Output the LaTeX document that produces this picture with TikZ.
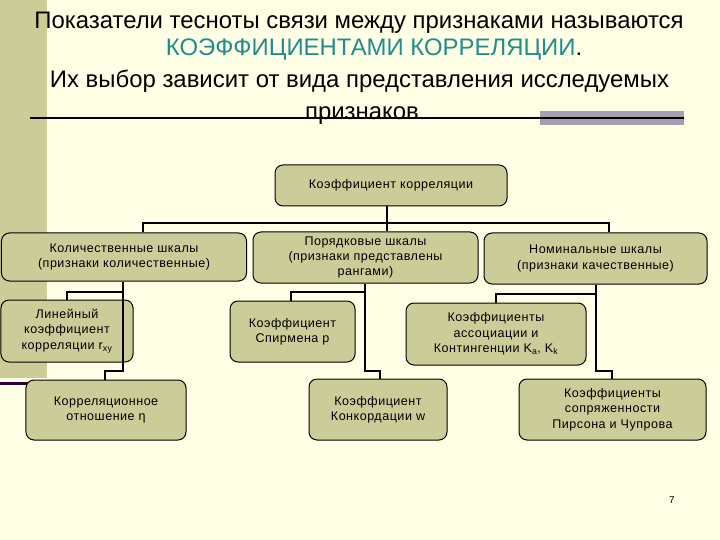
\documentclass[tikz,border=0pt]{standalone}
\usepackage{fontspec}
\setmainfont{Liberation Sans}
\newfontfamily\boxfont[LetterSpace=4]{Liberation Sans}
\usetikzlibrary{calc}
\definecolor{bg}{RGB}{255,255,229}
\definecolor{stripol}{RGB}{204,204,153}
\definecolor{boxfill}{RGB}{204,204,153}
\definecolor{tealtxt}{RGB}{32,140,140}
\definecolor{bargray}{RGB}{164,160,176}
\definecolor{darkpurple}{RGB}{51,0,51}
\begin{document}
\begin{tikzpicture}[x=1bp,y=-1bp,
 box/.style={draw=black, line width=1bp, fill=boxfill, rounded corners=8bp, align=center, font=\boxfont\fontsize{12.6}{15.5}\selectfont, inner sep=0pt},
 conn/.style={line width=2.2bp, black},
 ttl/.style={font=\fontsize{24}{28}\selectfont, anchor=base, inner sep=0pt}]
\fill[bg] (0,0) rectangle (720,540);
\useasboundingbox (0,0) rectangle (720,540);
\fill[stripol] (0,0) rectangle (47,378);
\fill[darkpurple] (0,381.5) rectangle (30,385);
% title
\node[ttl] (t1) at (359,29) {Показатели тесноты связи между признаками называются};
\node[ttl] (t2) at (374,56) {\textcolor{tealtxt}{КОЭФФИЦИЕНТАМИ КОРРЕЛЯЦИИ}.};
\node[ttl] (t3) at (359.5,88) {Их выбор зависит от вида представления исследуемых};
\node[ttl] (t4) at (362,120) {признаков};
\fill[bargray] (540,111) rectangle (684,125);
\draw[line width=2bp] (30,118) -- (684,118);
% boxes
\node[box, minimum width=232bp, minimum height=41bp] (root) at (391,185.5) {Коэффициент корреляции};
\node[box, minimum width=245bp, minimum height=48bp] (kol) at (124,257) {Количественные шкалы\\(признаки количественные)};
\node[box, minimum width=225bp, minimum height=51bp] (por) at (365.5,257.5) {Порядковые шкалы\\(признаки представлены\\рангами)};
\node[box, minimum width=223bp, minimum height=51bp] (nom) at (595.5,258.5) {Номинальные шкалы\\(признаки качественные)};
\node[box, minimum width=132bp, minimum height=62bp] (lin) at (67,331) {Линейный\\коэффициент\\корреляции r\textsubscript{xy}};
\node[box, minimum width=160bp, minimum height=60bp] (korr) at (106,410) {Корреляционное\\отношение η};
\node[box, minimum width=125bp, minimum height=61bp] (spir) at (292.5,331.5) {Коэффициент\\Спирмена р};
\node[box, minimum width=138bp, minimum height=61bp] (konk) at (378,409.5) {Коэффициент\\Конкордации w};
\node[box, minimum width=180bp, minimum height=62bp] (assoc) at (496,334) {Коэффициенты\\ассоциации и\\Контингенции K\textsubscript{a}, K\textsubscript{k}};
\node[box, minimum width=187bp, minimum height=61bp] (pirs) at (612.5,409.5) {Коэффициенты\\сопряженности\\Пирсона и Чупрова};
% connectors level 1
\coordinate (b0) at (387,223);
\coordinate (bL) at (143,223);
\coordinate (bR) at (609,223);
\draw[conn] (root.south -| b0) -- (b0 |- por.north);
\draw[conn] (bL |- kol.north) -- (bL) -- (bR) -- (bR |- nom.north);
% left branch
\coordinate (k1) at (123,292);
\coordinate (k2) at (67,292);
\coordinate (k3) at (123,371);
\coordinate (k4) at (105,371);
\draw[conn] (kol.south -| k1) -- (k3) -- (k4) -- (k4 |- korr.north);
\draw[conn] (k1) -- (k2) -- (k2 |- lin.north);
% middle branch
\coordinate (p1) at (365,292);
\coordinate (p2) at (291,292);
\coordinate (p3) at (365,371);
\coordinate (p4) at (380,371);
\draw[conn] (por.south -| p1) -- (p3) -- (p4) -- (p4 |- konk.north);
\draw[conn] (p1) -- (p2) -- (p2 |- spir.north);
% right branch
\coordinate (n1) at (596,294);
\coordinate (n2) at (496,294);
\coordinate (n3) at (596,371);
\coordinate (n4) at (612,371);
\draw[conn] (nom.south -| n1) -- (n3) -- (n4) -- (n4 |- pirs.north);
\draw[conn] (n1) -- (n2) -- (n2 |- assoc.north);
% page number
\node[font=\fontsize{10}{12}\selectfont, inner sep=0pt] (pg) at (672,500) {7};
\end{tikzpicture}
\end{document}
